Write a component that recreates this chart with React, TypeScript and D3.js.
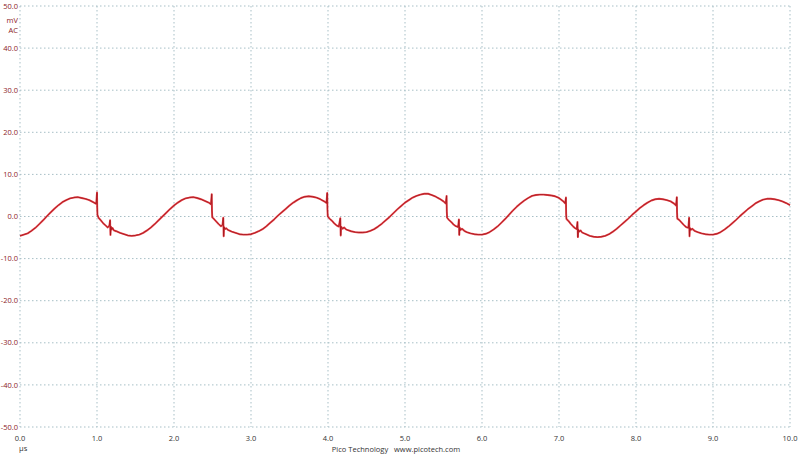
import React from "react";
import * as d3 from "d3";

const xTicks = [0, 1, 2, 3, 4, 5, 6, 7, 8, 9, 10];
const yTicks = [50, 40, 30, 20, 10, 0, -10, -20, -30, -40, -50];
const xUnit = "µs";
const yUnit = ["mV", "AC"];
const footer = "Pico Technology   www.picotech.com";

// [time µs, voltage mV]
const trace: [number, number][] = [
  [0.0, -4.6], [0.05, -4.3], [0.1, -4.0], [0.15, -3.4], [0.2, -2.7], [0.25, -1.8], [0.3, -0.9], [0.35, 0.1],
  [0.4, 1.0], [0.45, 1.9], [0.5, 2.7], [0.55, 3.4], [0.6, 3.9], [0.65, 4.3], [0.7, 4.5], [0.75, 4.6],
  [0.8, 4.4], [0.85, 4.2], [0.9, 3.9], [0.95, 3.4], [0.99, 3.0], [1.0, 5.7], [1.003, 2.2], [1.006, 0.4],
  [1.02, -0.3], [1.05, -0.9], [1.08, -1.6], [1.11, -2.1], [1.14, -2.6], [1.16, -2.2], [1.17, -0.9], [1.175, -4.4],
  [1.18, -2.4], [1.19, -3.1], [1.2, -2.7], [1.22, -3.3], [1.25, -3.5], [1.3, -3.9], [1.35, -4.2], [1.4, -4.5],
  [1.45, -4.6], [1.5, -4.5], [1.55, -4.3], [1.6, -3.9], [1.65, -3.3], [1.7, -2.6], [1.75, -1.8], [1.8, -0.9],
  [1.85, 0.0], [1.9, 0.9], [1.95, 1.8], [2.0, 2.6], [2.05, 3.3], [2.1, 3.9], [2.15, 4.3], [2.2, 4.5],
  [2.25, 4.6], [2.3, 4.4], [2.35, 4.1], [2.4, 3.7], [2.45, 3.3], [2.48, 2.9], [2.49, 5.3], [2.493, 1.5],
  [2.497, -0.2], [2.52, -0.6], [2.55, -1.2], [2.58, -1.8], [2.61, -2.3], [2.63, -2.0], [2.64, -0.3], [2.645, -4.7],
  [2.65, -2.5], [2.66, -3.0], [2.68, -2.8], [2.7, -3.2], [2.75, -3.6], [2.8, -3.9], [2.85, -4.2], [2.9, -4.3],
  [2.95, -4.3], [3.0, -4.2], [3.05, -3.9], [3.1, -3.5], [3.15, -3.0], [3.2, -2.3], [3.25, -1.5], [3.3, -0.7],
  [3.35, 0.2], [3.4, 1.0], [3.45, 1.8], [3.5, 2.6], [3.55, 3.3], [3.6, 3.9], [3.65, 4.4], [3.7, 4.7],
  [3.75, 4.8], [3.8, 4.7], [3.85, 4.5], [3.9, 4.1], [3.95, 3.6], [3.98, 3.2], [3.99, 5.6], [3.993, 1.6],
  [3.997, 0.0], [4.02, -0.5], [4.05, -1.0], [4.08, -1.6], [4.11, -2.1], [4.14, -2.4], [4.16, -0.4], [4.165, -4.5],
  [4.17, -2.4], [4.19, -2.9], [4.21, -2.6], [4.23, -3.0], [4.25, -3.2], [4.3, -3.5], [4.35, -3.7], [4.4, -3.8],
  [4.45, -3.8], [4.5, -3.7], [4.55, -3.4], [4.6, -3.0], [4.65, -2.4], [4.7, -1.7], [4.75, -0.9], [4.8, -0.1],
  [4.85, 0.8], [4.9, 1.7], [4.95, 2.5], [5.0, 3.3], [5.05, 3.9], [5.1, 4.5], [5.15, 4.9], [5.2, 5.2],
  [5.25, 5.4], [5.3, 5.4], [5.35, 5.1], [5.4, 4.7], [5.45, 4.2], [5.5, 3.6], [5.53, 3.1], [5.54, 4.9],
  [5.543, 1.2], [5.547, -0.3], [5.57, -0.8], [5.6, -1.3], [5.63, -1.9], [5.66, -2.3], [5.69, -2.5], [5.7, -0.7],
  [5.705, -4.4], [5.71, -2.6], [5.72, -3.2], [5.74, -2.9], [5.77, -3.4], [5.8, -3.7], [5.85, -4.0], [5.9, -4.2],
  [5.95, -4.3], [6.0, -4.3], [6.05, -4.1], [6.1, -3.7], [6.15, -3.1], [6.2, -2.4], [6.25, -1.5], [6.3, -0.6],
  [6.35, 0.4], [6.4, 1.4], [6.45, 2.3], [6.5, 3.1], [6.55, 3.8], [6.6, 4.4], [6.65, 4.9], [6.7, 5.1],
  [6.75, 5.2], [6.8, 5.2], [6.85, 5.1], [6.9, 5.0], [6.95, 4.8], [7.0, 4.4], [7.05, 3.7], [7.08, 3.1],
  [7.09, 4.5], [7.093, 0.5], [7.097, -0.6], [7.12, -1.0], [7.15, -1.7], [7.18, -2.3], [7.21, -2.8], [7.23, -3.0],
  [7.24, -1.3], [7.245, -4.9], [7.25, -3.1], [7.26, -3.6], [7.28, -3.3], [7.3, -3.8], [7.35, -4.2], [7.4, -4.6],
  [7.45, -4.8], [7.5, -4.9], [7.55, -4.8], [7.6, -4.6], [7.65, -4.2], [7.7, -3.6], [7.75, -2.9], [7.8, -2.1],
  [7.85, -1.3], [7.9, -0.5], [7.95, 0.4], [8.0, 1.2], [8.05, 2.0], [8.1, 2.7], [8.15, 3.3], [8.2, 3.8],
  [8.25, 4.1], [8.3, 4.2], [8.35, 4.1], [8.4, 3.9], [8.45, 3.6], [8.5, 3.0], [8.52, 2.6], [8.53, 4.6],
  [8.533, 1.0], [8.537, -0.5], [8.56, -0.8], [8.59, -1.4], [8.62, -2.0], [8.65, -2.5], [8.68, -2.7], [8.69, -0.3],
  [8.695, -4.7], [8.7, -2.7], [8.71, -3.2], [8.73, -2.9], [8.76, -3.4], [8.8, -3.7], [8.85, -4.0], [8.9, -4.2],
  [8.95, -4.3], [9.0, -4.3], [9.05, -4.1], [9.1, -3.7], [9.15, -3.1], [9.2, -2.4], [9.25, -1.6], [9.3, -0.8],
  [9.35, 0.1], [9.4, 0.9], [9.45, 1.7], [9.5, 2.4], [9.55, 3.1], [9.6, 3.6], [9.65, 4.0], [9.7, 4.2],
  [9.75, 4.2], [9.8, 4.1], [9.85, 3.9], [9.9, 3.6], [9.95, 3.2], [10.0, 2.7],
];

const W = 800;
const H = 454;
const font = "'Open Sans', 'Noto Sans', sans-serif";

export default function App() {
  const x = d3.scaleLinear().domain([0, 10]).range([20, 790]);
  const y = d3.scaleLinear().domain([-50, 50]).range([427, 6]);
  const line = d3
    .line<[number, number]>()
    .x((d) => x(d[0]))
    .y((d) => y(d[1]));
  const path = line(trace) || "";
  const gridColor = "#a7bfc6";

  return (
    <svg
      width={W}
      height={H}
      viewBox={`0 0 ${W} ${H}`}
      style={{ position: "absolute", left: 0, top: 0, background: "#ffffff" }}
    >
      <rect x={0} y={0} width={W} height={H} fill="#ffffff" />
      <g>
        {yTicks.map((t) => (
          <line
            key={"hy" + t}
            x1={x(0)}
            x2={x(10)}
            y1={y(t)}
            y2={y(t)}
            stroke={gridColor}
            strokeWidth={1}
            strokeDasharray="1.5,2.5"
          />
        ))}
        {xTicks.map((t) => (
          <line
            key={"vx" + t}
            x1={x(t)}
            x2={x(t)}
            y1={y(50)}
            y2={y(-50)}
            stroke={gridColor}
            strokeWidth={1}
            strokeDasharray="1.5,2.5"
          />
        ))}
      </g>
      <g fontFamily={font} fontSize={7.5}>
        {yTicks.map((t) => (
          <text
            key={"ly" + t}
            x={18}
            y={y(t)}
            dy="0.35em"
            textAnchor="end"
            fill="#8c2226"
          >
            {t.toFixed(1)}
          </text>
        ))}
        {yUnit.map((u, i) => (
          <text key={u} x={18} y={y(50) + 14 + i * 10} dy="0.35em" textAnchor="end" fill="#8c2226">
            {u}
          </text>
        ))}
        {xTicks.map((t) => (
          <text
            key={"lx" + t}
            x={x(t)}
            y={438}
            dy="0.35em"
            textAnchor="middle"
            fill="#333333"
          >
            {t.toFixed(1)}
          </text>
        ))}
        <text x={19} y={448} dy="0.35em" fill="#333333">
          {xUnit}
        </text>
        <text
          x={396}
          y={449}
          dy="0.35em"
          textAnchor="middle"
          fill="#333333"
          style={{ whiteSpace: "pre" }}
        >
          {footer}
        </text>
      </g>
      <path d={path} fill="none" stroke="#e0242c" strokeWidth={1.9} strokeLinejoin="round" opacity={0.85} />
      <path d={path} fill="none" stroke="#a3141a" strokeWidth={0.8} strokeLinejoin="round" />
    </svg>
  );
}
